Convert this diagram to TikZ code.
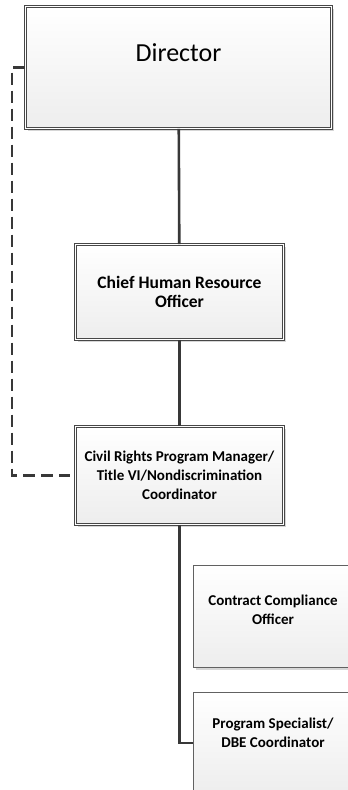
\documentclass[tikz,border=0pt]{standalone}
\usepackage{fontspec}
\setmainfont{Carlito}
\usetikzlibrary{shadows}
\tikzset{
  card/.style={top color=white, bottom color=black!7, align=center, inner sep=0pt,
    font=\bfseries\fontsize{15}{19}\selectfont,
    drop shadow={shadow xshift=2.5pt, shadow yshift=-2.5pt, fill=black, opacity=0.16}},
  twin/.style={card, draw=black!72, double=white, double distance=1.3pt, line width=0.8pt},
  single/.style={card, draw=black!62, line width=1pt},
  link/.style={draw=black!78, line width=2.6pt},
  dashlink/.style={link, dash pattern=on 12pt off 6pt}
}
\begin{document}
\begin{tikzpicture}[x=1pt, y=-1pt]
      \clip (0,0) rectangle (348,790);
      \draw
        (178.5,67.5) node[twin, minimum width=306pt, minimum height=122pt, text height=55pt, text depth=67pt,
          font=\fontsize{26}{30}\selectfont] (dir) {Director}
        (179.5,292) node[twin, minimum width=208pt, minimum height=95pt] (chro)
          {\fontsize{17.5}{23}\selectfont Chief Human Resource\\\fontsize{17.5}{23}\selectfont Officer}
        (179.5,475.5) node[twin, minimum width=208pt, minimum height=98pt] (cr)
          {Civil Rights Program Manager/\\Title VI/Nondiscrimination\\Coordinator}
        (273,616) node[single, minimum width=160pt, minimum height=102pt, text height=59pt, text depth=43pt] (cc)
          {Contract Compliance\\Officer}
        (273,743) node[single, minimum width=160pt, minimum height=102pt, text height=55pt, text depth=47pt] (ps)
          {Program Specialist/\\DBE Coordinator};
      \begin{scope}[link]
        \draw (dir) to (chro);
        \draw (chro) to (cr);
        \draw (cr.south) |- (ps.west);
        \draw[dashlink, shorten >=5pt] (dir.west) -- ++(-13,0) |- (cr.west);
      \end{scope}
    \end{tikzpicture}
\end{document}
